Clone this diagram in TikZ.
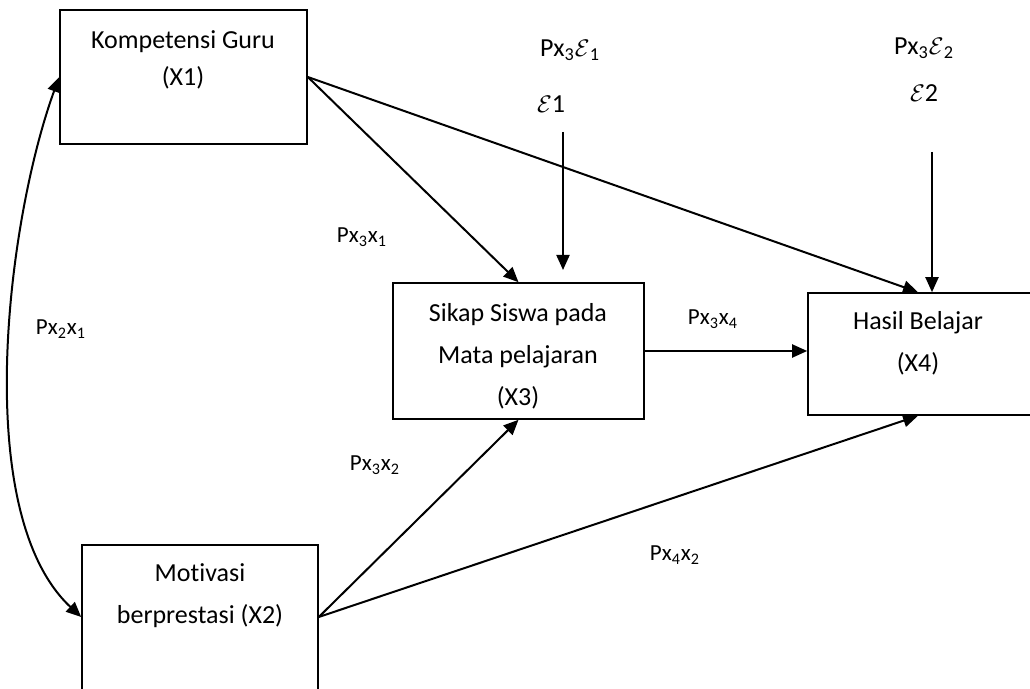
\documentclass[tikz,border=0pt]{standalone}
\usepackage{fontspec}
\setmainfont{Carlito}[Ligatures=NoCommon]
\usetikzlibrary{positioning,arrows.meta}

\tikzset{
  box/.style={draw, line width=0.8pt, inner sep=0pt},
  boxtext/.style={align=center, inner sep=0pt, font=\fontsize{13}{21}\selectfont},
  coef/.style={inner sep=0pt, font=\fontsize{11.5}{14}\selectfont},
  errlbl/.style={inner sep=0pt, font=\fontsize{13}{16}\selectfont},
  effect/.style={line width=1pt, -{Triangle[length=7.5pt,width=6.5pt]}},
  corr/.style={line width=1pt, {Triangle[length=7.5pt,width=6.5pt]}-{Triangle[length=7.5pt,width=6.5pt]}}
}

\begin{document}
\begin{tikzpicture}[x=0.5pt, y=0.5pt]
  \useasboundingbox (0,0) rectangle (1030,-689);

  % variables
  \node (x1) [box, minimum width=123.5pt, minimum height=67pt] at (183.5,-77) {};
  \node (x2) [box, minimum width=118pt, minimum height=80pt] at (200,-625) {};
  \node (x3) [box, minimum width=125.5pt, minimum height=68pt] at (518.5,-351) {};
  \node (x4) [box, minimum width=120pt, minimum height=61pt] at (928,-354) {};

  \node (x1t) [boxtext, font=\fontsize{13}{18.5}\selectfont] at (183,-60) {Kompetensi Guru\\(X1)};
  \node (x2t) [boxtext] at (200,-596) {Motivasi\\berprestasi (X2)};
  \node (x3t) [boxtext] at (518,-356) {Sikap Siswa pada\\Mata pelajaran\\(X3)};
  \node (x4t) [boxtext] at (918,-343) {Hasil Belajar\\(X4)};

  % residuals
  \node (pe1) [errlbl] at (570,-50) {Px\textsubscript{3}$\mathcal{E}$\textsubscript{1}};
  \node (e1) [errlbl] at (551,-104) {$\mathcal{E}$1};
  \node (pe2) [errlbl] at (924,-48) {Px\textsubscript{3}$\mathcal{E}$\textsubscript{2}};
  \node (e2) [errlbl] at (924,-93) {$\mathcal{E}$2};
  \coordinate (e1s) at (563,-132);
  \coordinate (e1e) at (563,-270);
  \coordinate (e2s) at (932,-152);

  % path coefficients
  \node (p21) [coef] at (61,-329) {Px\textsubscript{2}x\textsubscript{1}};
  \node (p31) [coef] at (362,-237) {Px\textsubscript{3}x\textsubscript{1}};
  \node (p32) [coef] at (375,-465) {Px\textsubscript{3}x\textsubscript{2}};
  \node (p34) [coef] at (713,-319) {Px\textsubscript{3}x\textsubscript{4}};
  \node (p42) [coef] at (675,-555) {Px\textsubscript{4}x\textsubscript{2}};

  % arrows
  \draw[effect] (x1.east) -- (x3.north);
  \draw[effect] (x1.east) -- ([xshift=-5pt]x4.north);
  \draw[effect] (e1s) -- (e1e);
  \draw[effect] (e2s) -- (e2s |- x4.north);
  \draw[effect] (x3.east) -- (x3.east -| x4.west);
  \draw[effect] ([yshift=4pt]x2.east) -- (x3.south);
  \draw[effect] ([yshift=4pt]x2.east) -- ([xshift=-5pt]x4.south);
  \draw[corr] (x1.west) to[out=250, in=137, out distance=76pt, in distance=76pt] ([yshift=4pt]x2.west);
\end{tikzpicture}
\end{document}
